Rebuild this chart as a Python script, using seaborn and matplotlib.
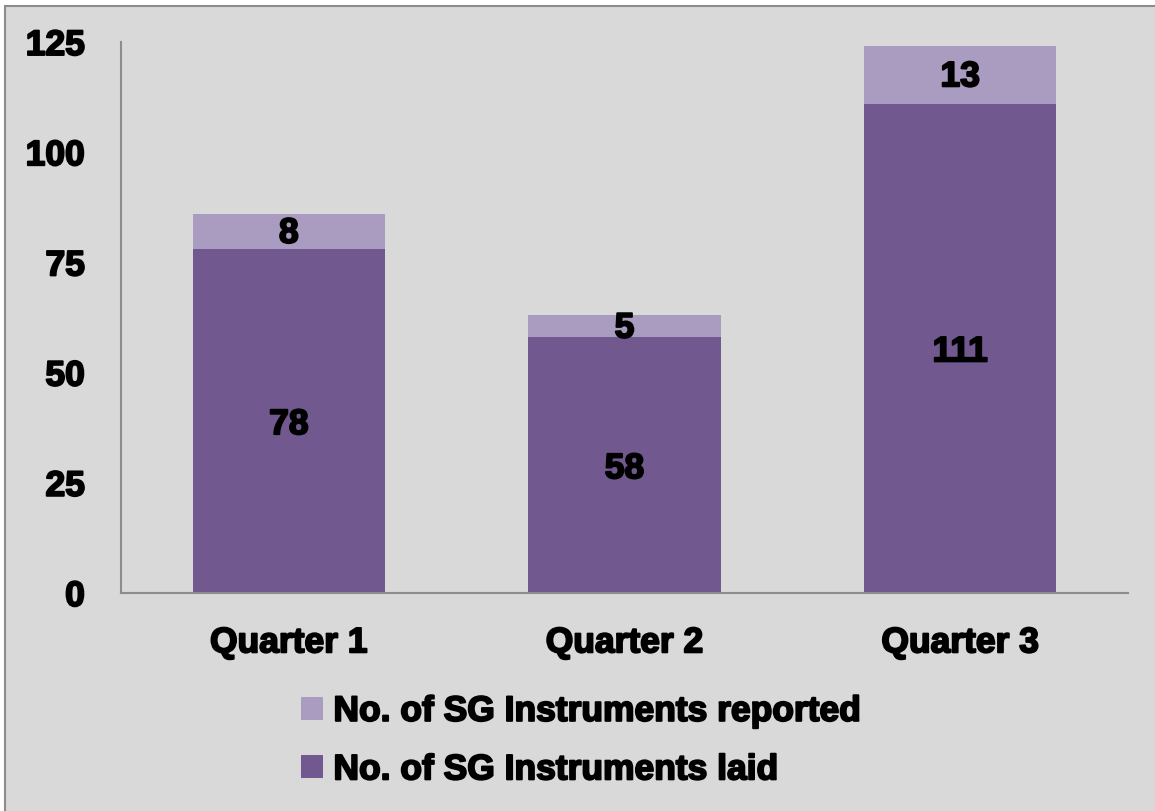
import pandas as pd
import matplotlib.pyplot as plt
import seaborn as sns
import matplotlib.patheffects as pe
from matplotlib.patches import Patch, Rectangle

quarters = ['Quarter 1', 'Quarter 2', 'Quarter 3']
laid = [78, 58, 111]
reported = [8, 5, 13]
series_names = ['No. of SG Instruments reported', 'No. of SG Instruments laid']
yticks = [0, 25, 50, 75, 100, 125]

DARK = '#71588f'
LIGHT = '#aa9bc0'
BG = '#d9d9d9'

df = pd.DataFrame({'Quarter': quarters, 'laid': laid, 'reported': reported})
df['total'] = df['laid'] + df['reported']

sns.set_style('white')
plt.rcParams['font.family'] = ['Liberation Sans', 'DejaVu Sans']
plt.rcParams['font.weight'] = 'bold'
plt.rcParams['text.color'] = 'black'
plt.rcParams['xtick.color'] = 'black'
plt.rcParams['ytick.color'] = 'black'

# slight stroke to get closer to the heavy Arial Black look
heavy = [pe.withStroke(linewidth=1.4, foreground='black')]

fig = plt.figure(figsize=(11.55, 8.11), dpi=100)
fig.patch.set_facecolor('white')
fig.patches.append(Rectangle((5 / 1155, -0.05), 1.1, 1.05 - 6 / 811,
                             transform=fig.transFigure, facecolor=BG,
                             edgecolor='#8c8c8c', linewidth=1.5, zorder=-1))

ax = fig.add_axes([121 / 1155, 1 - 593 / 811, 1007 / 1155, 551 / 811])
ax.set_facecolor(BG)

sns.barplot(data=df, x='Quarter', y='total', color=LIGHT, width=0.572,
            saturation=1, linewidth=0, edgecolor='none', ax=ax)
sns.barplot(data=df, x='Quarter', y='laid', color=DARK, width=0.572,
            saturation=1, linewidth=0, edgecolor='none', ax=ax)

FS = 25.5
for i, row in df.iterrows():
    ax.text(i, row['laid'] / 2 - 0.8, str(row['laid']), ha='center',
            va='center', fontsize=FS, fontweight='bold', path_effects=heavy)
    ax.text(i, row['laid'] + row['reported'] / 2 - 0.4, str(row['reported']),
            ha='center', va='center', fontsize=FS, fontweight='bold',
            path_effects=heavy)

ax.set_ylim(0, 125)
ax.set_xlim(-0.5, 2.5)
ax.set_yticks(yticks)
ax.set_xlabel('')
ax.set_ylabel('')
ax.tick_params(axis='y', length=0, pad=26, labelsize=FS)
ax.tick_params(axis='x', length=0, pad=24, labelsize=FS)
for lab in ax.get_xticklabels() + ax.get_yticklabels():
    lab.set_fontweight('bold')
    lab.set_path_effects(heavy)
for s in ['top', 'right']:
    ax.spines[s].set_visible(False)
for s in ['left', 'bottom']:
    ax.spines[s].set_color('#8c8c8c')
    ax.spines[s].set_linewidth(1.5)

handles = [Patch(facecolor=LIGHT, edgecolor='none'),
           Patch(facecolor=DARK, edgecolor='none')]
leg = fig.legend(handles, series_names, loc='upper left',
                 bbox_to_anchor=(269 / 1155, 1 - 663 / 811), frameon=False,
                 prop={'weight': 'bold', 'size': FS},
                 handlelength=0.62, handleheight=0.62, handletextpad=0.3,
                 labelspacing=0.72)
for t in leg.get_texts():
    t.set_path_effects(heavy)

fig.savefig('out.png', dpi=100, facecolor=fig.get_facecolor())
